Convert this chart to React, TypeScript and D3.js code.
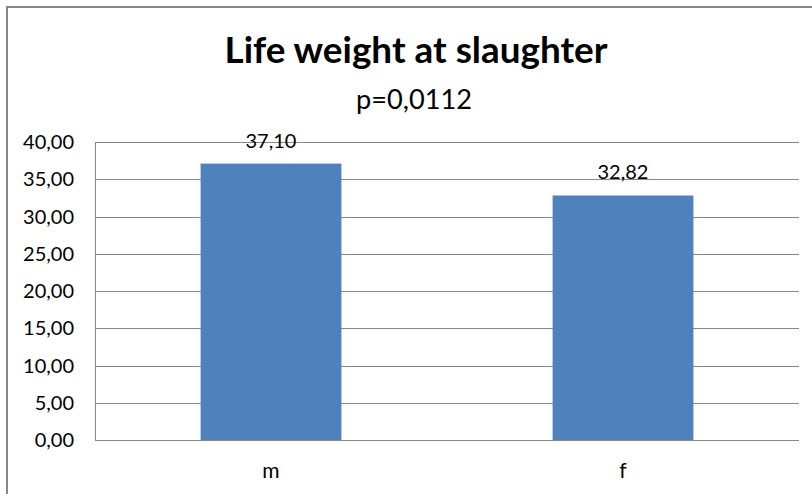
import { useEffect, useRef } from 'react';
import * as d3 from 'd3';

const categories = ['m', 'f'];
const values = [37.1, 32.82];
const yTicks = [0, 5, 10, 15, 20, 25, 30, 35, 40];
const title = 'Life weight at slaughter';
const subtitle = 'p=0,0112';

const fmt = (v: number) => v.toFixed(2).replace('.', ',');

export default function App() {
	const svgRef = useRef<SVGSVGElement>(null);

	useEffect(() => {
		const W = 812;
		const H = 494;
		const margin = { top: 142, right: 13, bottom: 54, left: 95 };
		const font = 'Lato, "Open Sans", sans-serif';
		const grey = '#878787';

		const svg = d3.select(svgRef.current);
		svg.selectAll('*').remove();

		// outer frame (only top and left edges are visible in the picture)
		svg.append('path')
			.attr('d', `M7,${H} L7,7 L${W},7`)
			.attr('fill', 'none')
			.attr('stroke', '#888')
			.attr('stroke-width', 2);

		svg.append('text')
			.attr('x', 416)
			.attr('y', 63)
			.attr('text-anchor', 'middle')
			.attr('font-family', font)
			.attr('font-weight', 'bold')
			.attr('font-size', 37)
			.attr('textLength', 383)
			.attr('lengthAdjust', 'spacingAndGlyphs')
			.attr('fill', '#000')
			.text(title);

		svg.append('text')
			.attr('x', 414)
			.attr('y', 109)
			.attr('text-anchor', 'middle')
			.attr('font-family', font)
			.attr('font-size', 27)
			.attr('textLength', 116)
			.attr('lengthAdjust', 'spacingAndGlyphs')
			.attr('fill', '#000')
			.text(subtitle);

		const innerW = W - margin.left - margin.right;
		const innerH = H - margin.top - margin.bottom;

		const x = d3.scaleBand<string>()
			.domain(categories)
			.range([0, innerW])
			.paddingInner(0.6)
			.paddingOuter(0.3);

		const y = d3.scaleLinear()
			.domain([0, 40])
			.range([innerH, 0]);

		const g = svg.append('g')
			.attr('transform', `translate(${margin.left}, ${margin.top})`);

		// gridlines
		g.selectAll('line.grid')
			.data(yTicks)
			.join('line')
			.attr('class', 'grid')
			.attr('x1', 0)
			.attr('x2', innerW)
			.attr('y1', d => Math.round(y(d)) + 0.5)
			.attr('y2', d => Math.round(y(d)) + 0.5)
			.attr('stroke', grey)
			.attr('stroke-width', 1);

		// y axis line
		g.append('line')
			.attr('x1', 0.5)
			.attr('x2', 0.5)
			.attr('y1', 0)
			.attr('y2', innerH)
			.attr('stroke', grey);

		// y tick labels
		g.selectAll('text.ytick')
			.data(yTicks)
			.join('text')
			.attr('class', 'ytick')
			.attr('x', -21)
			.attr('y', d => y(d))
			.attr('dy', '0.35em')
			.attr('text-anchor', 'end')
			.attr('font-family', font)
			.attr('font-size', 20)
			.attr('fill', '#000')
			.text(d => fmt(d));

		const data = categories.map((c, i) => ({ c, v: values[i] }));

		g.selectAll('rect.bar')
			.data(data)
			.join('rect')
			.attr('class', 'bar')
			.attr('x', d => x(d.c)!)
			.attr('y', d => y(d.v))
			.attr('width', x.bandwidth())
			.attr('height', d => innerH - y(d.v))
			.attr('fill', '#4f81bd');

		g.selectAll('text.val')
			.data(data)
			.join('text')
			.attr('class', 'val')
			.attr('x', d => x(d.c)! + x.bandwidth() / 2)
			.attr('y', d => y(d.v) - 16)
			.attr('text-anchor', 'middle')
			.attr('font-family', font)
			.attr('font-size', 20)
			.attr('fill', '#000')
			.text(d => fmt(d.v));

		g.selectAll('text.cat')
			.data(categories)
			.join('text')
			.attr('class', 'cat')
			.attr('x', d => x(d)! + x.bandwidth() / 2)
			.attr('y', innerH + 38)
			.attr('text-anchor', 'middle')
			.attr('font-family', font)
			.attr('font-size', 21)
			.attr('fill', '#000')
			.text(d => d);
	}, []);

	return (
		<svg
			ref={svgRef}
			width={812}
			height={494}
			style={{ position: 'fixed', left: 0, top: 0, background: '#fff' }}
		/>
	);
}
